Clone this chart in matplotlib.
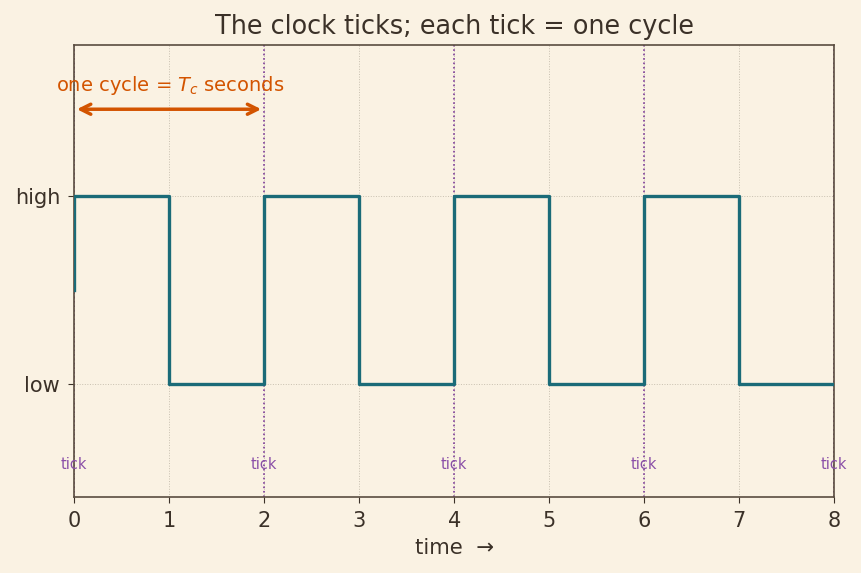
import numpy as np
import matplotlib.pyplot as plt

# clock signal: edge times and level after each edge
edge_times = [0, 0, 1, 2, 3, 4, 5, 6, 7, 8]
levels = [0.5, 1, 0, 1, 0, 1, 0, 1, 0, 0]
tick_times = [0, 2, 4, 6, 8]
y_ticks = [0, 1]
y_labels = ["low", "high"]

bg = "#faf2e3"
ink = "#3b3128"
wave_col = "#1a6b78"
tick_col = "#7d3c98"
arrow_col = "#d35400"

fig, ax = plt.subplots(figsize=(8.61, 5.73), dpi=100)
fig.patch.set_facecolor(bg)
ax.set_facecolor(bg)
fig.subplots_adjust(left=0.086, right=0.969, top=0.921, bottom=0.133)

ax.grid(True, linestyle=":", linewidth=0.7, color="#c8c0b0")
ax.set_axisbelow(True)

ax.step(edge_times, levels, where="post", color=wave_col, linewidth=2.4, zorder=3)

for t in tick_times:
    ax.axvline(t, color=tick_col, linestyle=":", linewidth=1.2, zorder=2)
    ax.text(t, -0.43, "tick", color="#8a4fa8", fontsize=10.5, ha="center", va="center")

ax.annotate("", xy=(0.03, 1.46), xytext=(1.97, 1.46),
            arrowprops=dict(arrowstyle="<->", color=arrow_col, lw=2.5,
                            mutation_scale=18, shrinkA=0, shrinkB=0))
ax.text(1.01, 1.585, "one cycle = $T_c$ seconds", color=arrow_col, fontsize=14,
        ha="center", va="center")

ax.set_xlim(0, 8)
ax.set_ylim(-0.6, 1.8)
ax.set_xticks(range(0, 9))
ax.set_yticks(y_ticks)
ax.set_yticklabels(y_labels)
ax.tick_params(colors=ink, labelsize=15, length=4.5, pad=5.5)
for s in ax.spines.values():
    s.set_color("#5a4d40")
    s.set_linewidth(1.2)

ax.set_xlabel("time  →", fontsize=15.3, color=ink, labelpad=5)
ax.set_title("The clock ticks; each tick = one cycle", fontsize=18.4, color=ink, pad=8)

fig.savefig("out.png", dpi=100, facecolor=bg)
